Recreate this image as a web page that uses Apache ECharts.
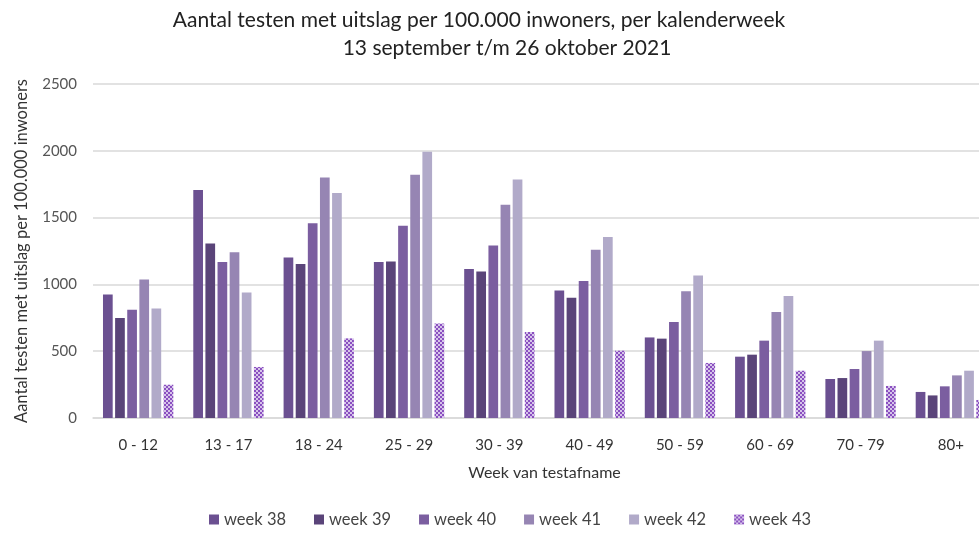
<!DOCTYPE html>
<html style="height: 100%">
<head>
<meta charset="utf-8">
<script src="https://cdn.jsdelivr.net/npm/echarts@6/dist/echarts.min.js"></script>
</head>
<body style="height: 100%; margin: 0; background: #fff">
<div id="container" style="width: 979px; height: 533px"></div>
<script type="text/javascript">
// leeftijdsgroepen en waarden per kalenderweek
var categories = ['0 - 12', '13 - 17', '18 - 24', '25 - 29', '30 - 39', '40 - 49', '50 - 59', '60 - 69', '70 - 79', '80+'];
var week38 = [925, 1707, 1202, 1168, 1115, 955, 603, 459, 292, 195];
var week39 = [749, 1307, 1153, 1172, 1097, 900, 594, 474, 299, 169];
var week40 = [811, 1168, 1457, 1439, 1292, 1025, 718, 579, 367, 237];
var week41 = [1037, 1240, 1801, 1821, 1597, 1260, 948, 793, 501, 319];
var week42 = [820, 940, 1684, 1993, 1786, 1355, 1067, 913, 579, 354];
var week43 = [249, 382, 596, 708, 644, 504, 412, 354, 240, 135];
var seriesNames = ['week 38', 'week 39', 'week 40', 'week 41', 'week 42', 'week 43'];

var dom = document.getElementById('container');
var myChart = echarts.init(dom);
var font = 'Lato, "Open Sans", sans-serif';

// gestippeld patroon voor week 43
var pat = document.createElement('canvas');
pat.width = 4; pat.height = 4;
var ctx = pat.getContext('2d');
ctx.fillStyle = '#d6c4ea';
ctx.fillRect(0, 0, 4, 4);
ctx.fillStyle = '#8a4fc0';
ctx.fillRect(0, 0, 2, 2);
ctx.fillRect(2, 2, 2, 2);

var colors = ['#6b5091', '#5a4479', '#7b5ea0', '#9685b3', '#b1aac9', {image: pat, repeat: 'repeat'}];
var allData = [week38, week39, week40, week41, week42, week43];

var series = [];
for (var i = 0; i < seriesNames.length; i++) {
	series.push({
		name: seriesNames[i],
		type: 'bar',
		data: allData[i],
		barWidth: 9.7,
		barGap: '25%',
		barCategoryGap: '22%',
		itemStyle: {color: colors[i]},
		animation: false
	});
}

var option = {
	textStyle: {fontFamily: font},
	title: [
		{
			text: 'Aantal testen met uitslag per 100.000 inwoners, per kalenderweek',
			left: 474, top: 5, textAlign: 'center',
			textStyle: {fontFamily: font, fontSize: 21, fontWeight: 'normal', color: '#222'}
		},
		{
			text: '13 september t/m 26 oktober 2021',
			left: 502, top: 33, textAlign: 'center',
			textStyle: {fontFamily: font, fontSize: 21, fontWeight: 'normal', color: '#222'}
		}
	],
	legend: {
		data: seriesNames,
		bottom: 0,
		left: 204,
		itemWidth: 10,
		itemHeight: 10,
		itemGap: 28,
		icon: 'rect',
		textStyle: {fontFamily: font, fontSize: 16.5, color: '#444'}
	},
	grid: {left: 93, right: -17, top: 84, bottom: 115, containLabel: false, outerBoundsMode: 'none'},
	xAxis: {
		type: 'category',
		data: categories,
		name: 'Week van testafname',
		nameLocation: 'middle',
		nameGap: 47,
		nameTextStyle: {fontFamily: font, fontSize: 16, color: '#333'},
		axisLine: {lineStyle: {color: '#d9d9d9', width: 1.5}},
		axisTick: {show: false},
		axisLabel: {fontFamily: font, fontSize: 15, color: '#333', margin: 20}
	},
	yAxis: {
		type: 'value',
		min: 0, max: 2500, interval: 500,
		name: 'Aantal testen met uitslag per 100.000 inwoners',
		nameLocation: 'middle',
		nameGap: 63,
		nameTextStyle: {fontFamily: font, fontSize: 16.5, color: '#333'},
		axisLine: {show: false},
		axisTick: {show: false},
		axisLabel: {
			fontFamily: font, fontSize: 15, color: '#555', margin: 16,
			formatter: function (v) { return String(v); }
		},
		splitLine: {lineStyle: {color: '#d9d9d9', width: 1.5}}
	},
	series: series
};

myChart.setOption(option, true);
</script>
</body>
</html>
